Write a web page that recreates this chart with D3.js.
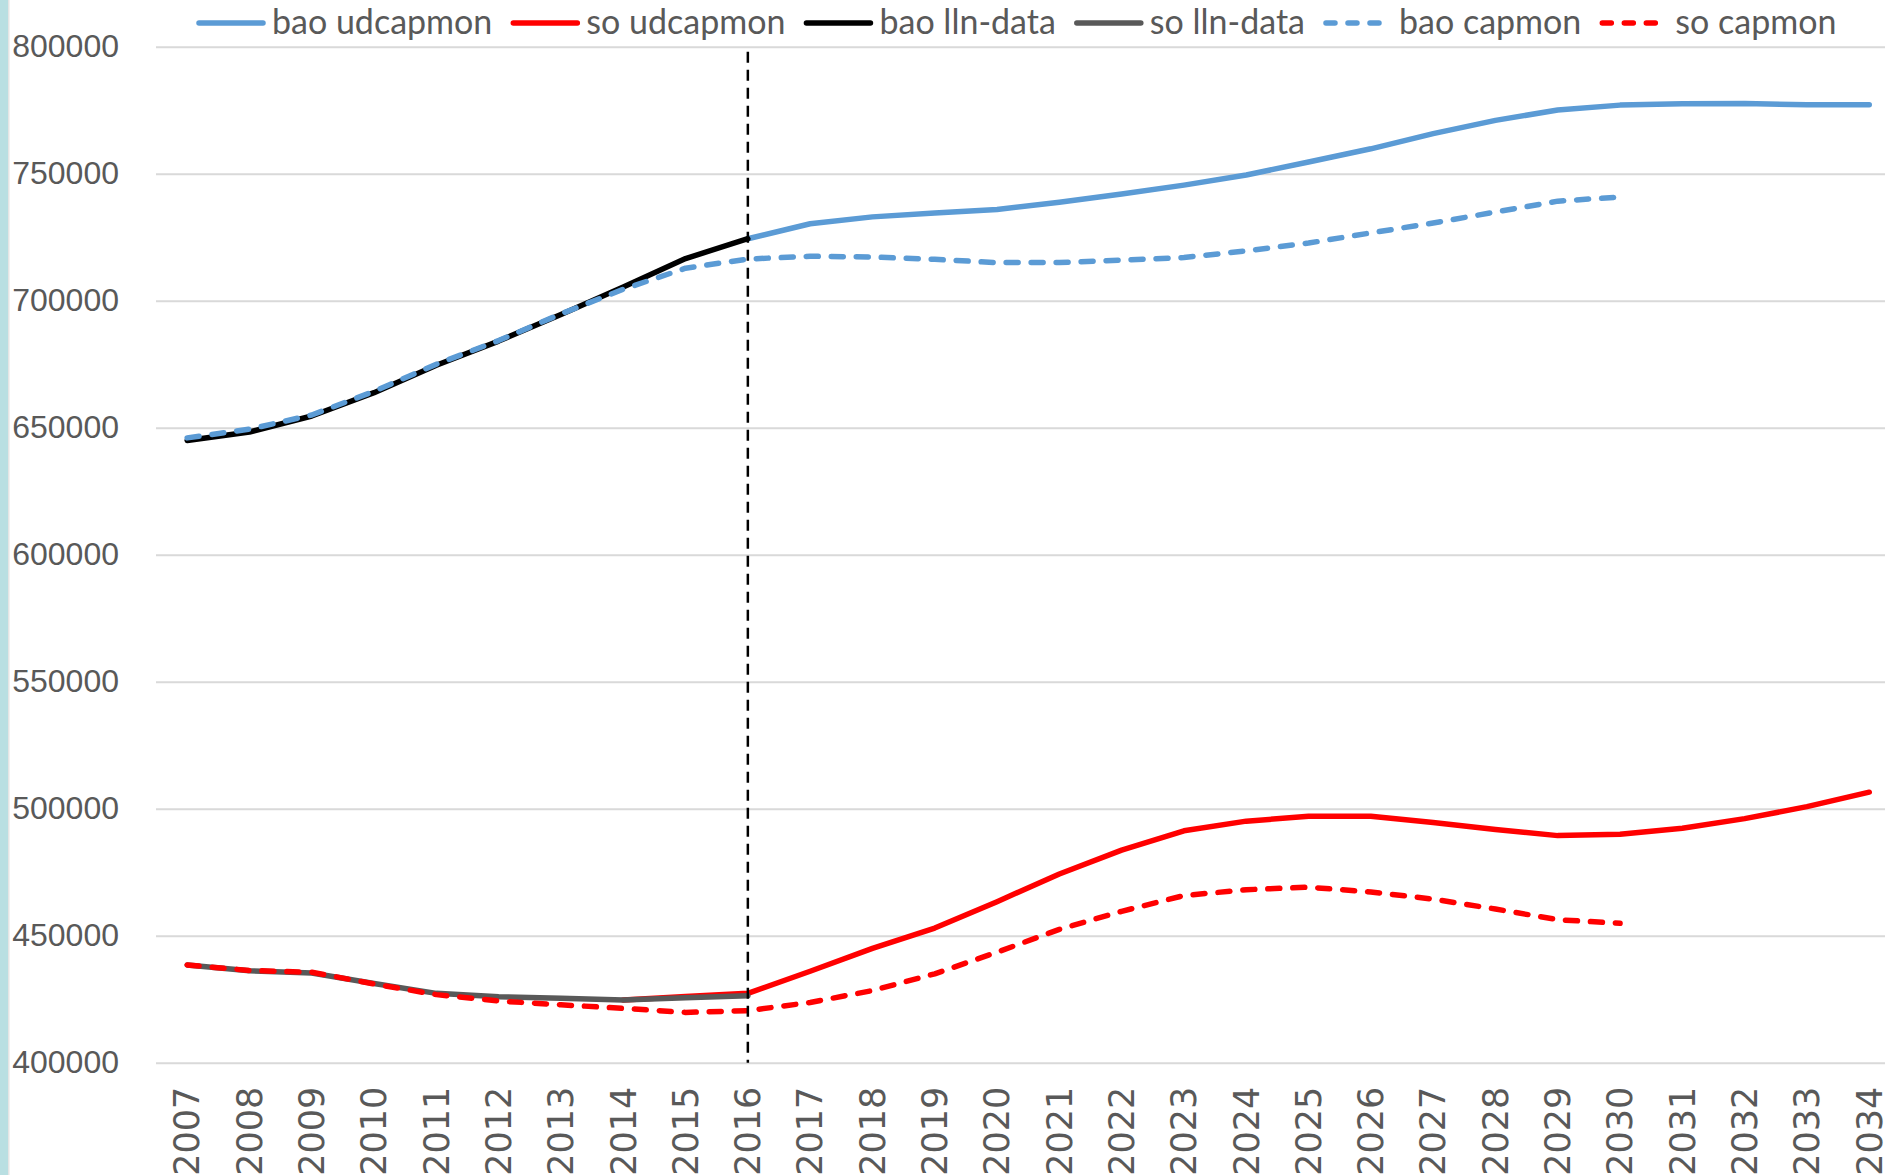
<!DOCTYPE html>
<html>
<head>
<meta charset="utf-8">
<script src="https://cdn.jsdelivr.net/npm/d3@7"></script>
<style>
  html, body { margin: 0; padding: 0; background: #fff; overflow: hidden; }
</style>
</head>
<body>
<div id="chart"></div>
<script>
// years on the category axis
const years = d3.range(2007, 2035);

// values per year, null where the series has no point
const baoLln = [645000, 648300, 654600, 663800, 674600, 684100, 694600, 705400, 716600, 724400,
  null, null, null, null, null, null, null, null, null, null, null, null, null, null, null, null, null, null];
const soLln = [438500, 436200, 435300, 431200, 427300, 426000, 425400, 424700, 425600, 426400,
  null, null, null, null, null, null, null, null, null, null, null, null, null, null, null, null, null, null];
const baoUd = [null, null, null, null, null, null, null, null, null, 724400,
  730300, 733000, 734500, 735900, 738800, 742000, 745500, 749500, 754600, 759800,
  765800, 771000, 775100, 777000, 777500, 777600, 777100, 777100];
const soUd = [null, null, null, null, null, null, null, 424700, 426100, 427300,
  436000, 445000, 453000, 463400, 474300, 483700, 491300, 495100, 497000, 497000,
  494600, 491800, 489400, 489900, 492300, 496100, 500800, 506500];
const baoCap = [646000, 649400, 655000, 664300, 675000, 684300, 694800, 704500, 712800, 716400,
  717500, 717200, 716300, 715000, 715000, 716000, 717000, 719600, 722700, 726700,
  730600, 734900, 739200, 740800, null, null, null, null];
const soCap = [438500, 436300, 435600, 431000, 426800, 424300, 422800, 421400, 419800, 420500,
  423700, 428400, 435000, 443500, 452500, 459600, 465800, 468100, 469100, 467200,
  464400, 460500, 456300, 454900, null, null, null, null];

const yTicks = d3.range(400000, 800001, 50000);
const markerYear = 2016;

const W = 1885, H = 1175;
const plotLeft = 156, plotTop = 46.7, plotBottom = 1062.7, catW = 62.3;

const svg = d3.select('#chart').append('svg')
  .attr('width', W).attr('height', H)
  .style('display', 'block');

svg.append('rect').attr('width', W).attr('height', H).attr('fill', '#fff');
// teal strip on the left edge
svg.append('rect').attr('x', 0).attr('y', 0).attr('width', 8).attr('height', H).attr('fill', '#B9DFE2');
svg.append('rect').attr('x', 8).attr('y', 0).attr('width', 1.5).attr('height', H).attr('fill', '#E4E4E4');

const x = d3.scaleBand().domain(years).range([plotLeft, plotLeft + years.length * catW]).padding(0);
const xc = yr => x(yr) + x.bandwidth() / 2;
const y = d3.scaleLinear().domain([400000, 800000]).range([plotBottom, plotTop]);

// gridlines
svg.append('g')
  .attr('transform', `translate(${plotLeft},0)`)
  .call(d3.axisLeft(y).tickValues(yTicks).tickSize(-(years.length * catW)).tickFormat(''))
  .call(g => g.select('.domain').remove())
  .call(g => g.selectAll('line').attr('stroke', '#D9D9D9').attr('stroke-width', 2));

// y labels
svg.append('g')
  .attr('transform', `translate(${plotLeft},0)`)
  .call(d3.axisLeft(y).tickValues(yTicks).tickSize(0).tickPadding(37).tickFormat(d3.format('d')))
  .call(g => g.select('.domain').remove())
  .call(g => g.selectAll('text')
    .attr('fill', '#595959')
    .style('font-family', '"Liberation Sans", Arial, sans-serif')
    .style('font-size', '32px'));

// x labels, rotated (the reference crops them at the bottom edge too)
svg.append('g')
  .attr('transform', `translate(0,${plotBottom})`)
  .call(d3.axisBottom(x).tickSize(0))
  .call(g => g.select('.domain').remove())
  .call(g => g.selectAll('text')
    .attr('transform', 'rotate(-90)')
    .attr('text-anchor', 'end')
    .attr('x', -24)
    .attr('y', 0)
    .attr('dy', '0.35em')
    .attr('fill', '#595959')
    .style('font-family', '"DejaVu Sans", sans-serif')
    .style('font-size', '35px'));

const series = [
  { name: 'bao udcapmon', values: baoUd, color: '#5B9BD5', dash: null },
  { name: 'so udcapmon', values: soUd, color: '#FF0000', dash: null },
  { name: 'bao lln-data', values: baoLln, color: '#000000', dash: null },
  { name: 'so lln-data', values: soLln, color: '#595959', dash: null },
  { name: 'bao capmon', values: baoCap, color: '#5B9BD5', dash: '12,13' },
  { name: 'so capmon', values: soCap, color: '#FF0000', dash: '12,13' }
];

const line = d3.line()
  .defined(d => d.v != null)
  .x(d => xc(d.yr))
  .y(d => y(d.v));

svg.append('g')
  .selectAll('path')
  .data(series)
  .enter()
  .append('path')
  .attr('d', s => line(years.map((yr, i) => ({ yr: yr, v: s.values[i] }))))
  .attr('fill', 'none')
  .attr('stroke', s => s.color)
  .attr('stroke-width', 5.5)
  .attr('stroke-linecap', 'round')
  .attr('stroke-linejoin', 'round')
  .attr('stroke-dasharray', s => s.dash);

// vertical dashed marker
svg.append('line')
  .attr('x1', xc(markerYear)).attr('x2', xc(markerYear))
  .attr('y1', y(798000)).attr('y2', y(400000))
  .attr('stroke', '#000')
  .attr('stroke-width', 2.5)
  .attr('stroke-dasharray', '11,7');

// legend
const legend = svg.append('g');
let lx = 196;
series.forEach(s => {
  legend.append('line')
    .attr('x1', lx + 3).attr('x2', lx + 67)
    .attr('y1', 23).attr('y2', 23)
    .attr('stroke', s.color)
    .attr('stroke-width', 5.5)
    .attr('stroke-linecap', 'round')
    .attr('stroke-dasharray', s.dash ? '9,13' : null);
  const t = legend.append('text')
    .attr('x', lx + 76)
    .attr('y', 34)
    .attr('fill', '#595959')
    .style('font-family', 'Lato, sans-serif')
    .style('font-size', '34px')
    .text(s.name);
  lx = lx + 76 + t.node().getComputedTextLength() + 18;
});
</script>
</body>
</html>
